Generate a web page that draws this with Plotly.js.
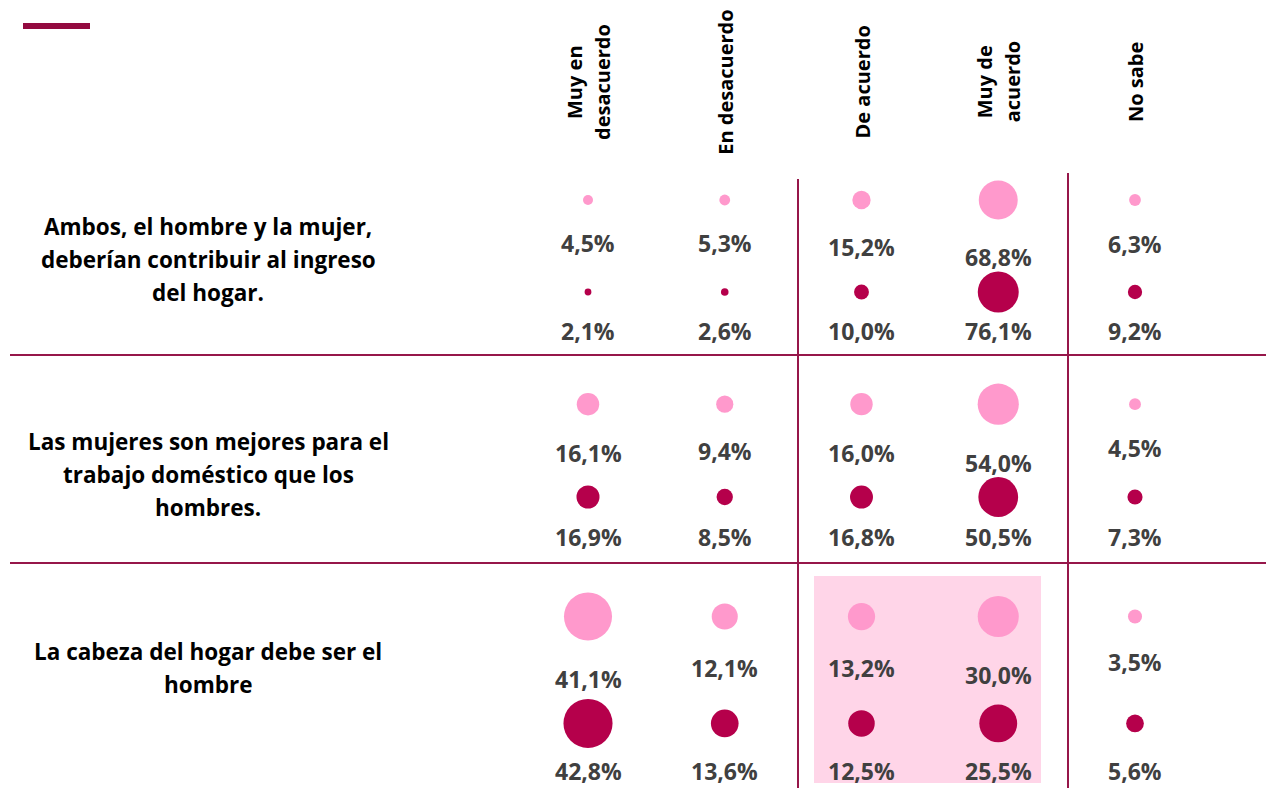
<!DOCTYPE html>
<html><head><meta charset="utf-8">
<script src="https://cdn.plot.ly/plotly-3.0.1.min.js"></script>
<style>html,body{margin:0;padding:0;background:#fff}#chart{width:1266px;height:788px}</style>
</head><body><div id="chart"></div>
<script>
// ---------- DATA ----------
const categories = ['Muy en desacuerdo', 'En desacuerdo', 'De acuerdo', 'Muy de acuerdo', 'No sabe'];
const categoryHeaderLines = [['Muy en', 'desacuerdo'], ['En desacuerdo'], ['De acuerdo'], ['Muy de', 'acuerdo'], ['No sabe']];
const statements = [
  'Ambos, el hombre y la mujer, deberían contribuir al ingreso del hogar.',
  'Las mujeres son mejores para el trabajo doméstico que los hombres.',
  'La cabeza del hogar debe ser el hombre'
];
const statementLines = [
  ['Ambos, el hombre y la mujer,', 'deberían contribuir al ingreso', 'del hogar.'],
  ['Las mujeres son mejores para el', 'trabajo doméstico que los', 'hombres.'],
  ['La cabeza del hogar debe ser el', 'hombre']
];
// light (pink) series, one array per statement
const lightAmbos   = [4.5, 5.3, 15.2, 68.8, 6.3];
const lightMujeres = [16.1, 9.4, 16.0, 54.0, 4.5];
const lightCabeza  = [41.1, 12.1, 13.2, 30.0, 3.5];
// dark (crimson) series, one array per statement
const darkAmbos    = [2.1, 2.6, 10.0, 76.1, 9.2];
const darkMujeres  = [16.9, 8.5, 16.8, 50.5, 7.3];
const darkCabeza   = [42.8, 13.6, 12.5, 25.5, 5.6];

const lightRows = [lightAmbos, lightMujeres, lightCabeza];
const darkRows = [darkAmbos, darkMujeres, darkCabeza];

// ---------- LAYOUT GEOMETRY ----------
const W = 1266, H = 788;
const COL0 = 588, COLSTEP = 136.75;   // pixel centre of first column, column step
const ROW0 = 246, ROWSTEP = 212;       // pixel centre of first row, unit step
const xr = [-COL0 / COLSTEP, (W - COL0) / COLSTEP];
const yr = [(H - ROW0) / ROWSTEP, -ROW0 / ROWSTEP];
const rowCenter = [0, 0.965, 2.0];
const halfGap = [0.217, 0.219, 0.252];
const sizeK = [4.7, 5.6, 7.5];          // bubble diameter scale per row
const darkLabelOffset = [39, 40, 48];
const labelY = [0.066, 1.08, 1.99];
const px2y = p => (p - ROW0) / ROWSTEP;
const px2x = p => (p - COL0) / COLSTEP;

const LIGHT = '#ff99cc', DARK = '#b5004b', LINE = '#96174a', TXT = '#404040';
const FONT = 'Open Sans, Noto Sans, sans-serif';
const fmt = v => v.toFixed(1).replace('.', ',') + '%';

const lx = [], ly = [], ls = [], dx = [], dy = [], ds = [];
const annotations = [];
for (let r = 0; r < 3; r++) {
  for (let j = 0; j < categories.length; j++) {
    const lv = lightRows[r][j], dv = darkRows[r][j];
    const ldiam = sizeK[r] * Math.sqrt(lv), ddiam = sizeK[r] * Math.sqrt(dv);
    const yl = rowCenter[r] - halfGap[r], yd = rowCenter[r] + halfGap[r];
    lx.push(j); ly.push(yl); ls.push(ldiam);
    dx.push(j); dy.push(yd); ds.push(ddiam);
    annotations.push({x: j, y: yl, xref: 'x', yref: 'y', text: fmt(lv), showarrow: false,
      yshift: -(ldiam / 2 + 38), font: {family: FONT, size: 23, color: TXT, weight: 700}});
    annotations.push({x: j, y: yd, xref: 'x', yref: 'y', text: fmt(dv), showarrow: false,
      yshift: -darkLabelOffset[r], font: {family: FONT, size: 23, color: TXT, weight: 700}});
  }
  const lines = statementLines[r];
  lines.forEach((t, i) => {
    annotations.push({x: px2x(208), y: labelY[r], xref: 'x', yref: 'y', text: t, showarrow: false,
      yshift: -(i - (lines.length - 1) / 2) * 33,
      font: {family: FONT, size: 22.5, color: '#000000', weight: 700}});
  });
}
categoryHeaderLines.forEach((lines, j) => {
  lines.forEach((t, i) => {
    annotations.push({x: j, y: px2y(82), xref: 'x', yref: 'y', text: t, showarrow: false, textangle: -90,
      xshift: (i - (lines.length - 1) / 2) * 28,
      font: {family: FONT, size: 20, color: '#000000', weight: 700}});
  });
});

const shapes = [
  {type: 'rect', layer: 'below', xref: 'x', yref: 'y', x0: px2x(814), x1: px2x(1041), y0: px2y(576), y1: px2y(783),
   fillcolor: '#ffd5e8', line: {width: 0}},
  {type: 'rect', xref: 'paper', yref: 'paper', x0: 23 / W, x1: 90 / W, y0: 1 - 29 / H, y1: 1 - 23 / H,
   fillcolor: '#930a40', line: {width: 0}},
  {type: 'line', xref: 'paper', yref: 'y', x0: 10 / W, x1: 1, y0: px2y(355), y1: px2y(355), line: {color: LINE, width: 2}},
  {type: 'line', xref: 'paper', yref: 'y', x0: 10 / W, x1: 1, y0: px2y(563), y1: px2y(563), line: {color: LINE, width: 2}},
  {type: 'line', xref: 'x', yref: 'y', x0: px2x(798), x1: px2x(798), y0: px2y(179), y1: px2y(H), line: {color: LINE, width: 2}},
  {type: 'line', xref: 'x', yref: 'y', x0: px2x(1068), x1: px2x(1068), y0: px2y(173), y1: px2y(H), line: {color: LINE, width: 2}}
];

const traces = [
  {type: 'scatter', mode: 'markers', name: 'Serie 1', x: lx, y: ly, hoverinfo: 'skip',
   marker: {size: ls, sizemode: 'diameter', color: LIGHT, line: {width: 0}, opacity: 1}},
  {type: 'scatter', mode: 'markers', name: 'Serie 2', x: dx, y: dy, hoverinfo: 'skip',
   marker: {size: ds, sizemode: 'diameter', color: DARK, line: {width: 0}, opacity: 1}}
];

const layout = {
  width: W, height: H, margin: {l: 0, r: 0, t: 0, b: 0},
  paper_bgcolor: '#ffffff', plot_bgcolor: 'rgba(0,0,0,0)', showlegend: false,
  xaxis: {range: xr, visible: false, fixedrange: true},
  yaxis: {range: yr, visible: false, fixedrange: true},
  shapes: shapes, annotations: annotations
};
Plotly.newPlot('chart', traces, layout, {displayModeBar: false, staticPlot: true});
</script></body></html>
